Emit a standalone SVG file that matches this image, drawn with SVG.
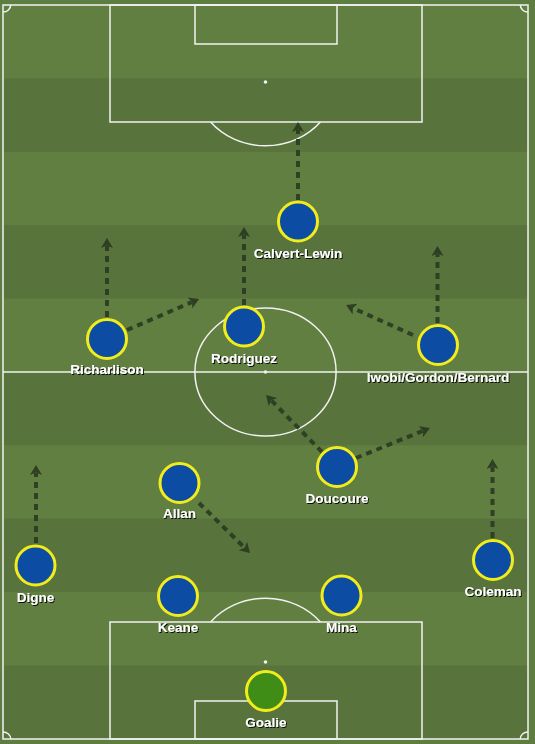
<svg xmlns="http://www.w3.org/2000/svg" width="535" height="744" viewBox="0 0 535 744">
<defs>
<style>
.ln{fill:none;stroke:#f2f2f2;stroke-width:1.5}
.spot{fill:#f2f2f2}
.lt{fill:#627f42}
.dk{fill:#58733c}
.pl{fill:#0c4ca3;stroke:#f2ec1c;stroke-width:3}
.gk{fill:#3f8c17;stroke:#f2ec1c;stroke-width:3}
.lbl{font-family:"Liberation Sans",Arial,sans-serif;font-weight:bold;font-size:13.5px;fill:#ffffff;text-anchor:middle;filter:url(#sh)}
.arr{fill:none;stroke:#2a3a21;stroke-width:4;stroke-dasharray:6 5;stroke-opacity:0.9;marker-end:url(#ah)}
</style>
<filter id="sh" x="-10%" y="-30%" width="120%" height="160%">
<feDropShadow dx="1" dy="1" stdDeviation="0.4" flood-color="#000" flood-opacity="0.9"/>
</filter>
<marker id="ah" markerUnits="userSpaceOnUse" markerWidth="14" markerHeight="14" refX="2" refY="0" viewBox="0 -7 14 14" orient="auto">
<path d="M0,-6 L10,0 L0,6 L2.5,0 Z" fill="#2a3a21" fill-opacity="0.92"/>
</marker>
</defs>
<rect x="0" y="0" width="535" height="744" fill="#5e7d40"/>
<g id="pitch">
<rect class="lt" x="3" y="5" width="525" height="73.4"/>
<rect class="dk" x="3" y="78.4" width="525" height="73.4"/>
<rect class="lt" x="3" y="151.8" width="525" height="73.4"/>
<rect class="dk" x="3" y="225.2" width="525" height="73.4"/>
<rect class="lt" x="3" y="298.6" width="525" height="73.4"/>
<rect class="dk" x="3" y="372" width="525" height="73.4"/>
<rect class="lt" x="3" y="445.4" width="525" height="73.4"/>
<rect class="dk" x="3" y="518.8" width="525" height="73.4"/>
<rect class="lt" x="3" y="592.2" width="525" height="73.4"/>
<rect class="dk" x="3" y="665.6" width="525" height="73.4"/>
<rect class="ln" x="3" y="5" width="525" height="734"/>
<line class="ln" x1="3" y1="372" x2="528" y2="372"/>
<ellipse class="ln" cx="265.5" cy="372" rx="70.6" ry="64"/>
<circle class="spot" cx="265.5" cy="372" r="1.8"/>
<rect class="ln" x="110" y="5" width="312" height="117"/>
<rect class="ln" x="195" y="5" width="142" height="39"/>
<circle class="spot" cx="265.5" cy="82" r="1.8"/>
<path class="ln" d="M210.6,122 A70.6,64 0 0 0 320.4,122"/>
<rect class="ln" x="110" y="622" width="312" height="117"/>
<rect class="ln" x="195" y="701" width="142" height="38"/>
<circle class="spot" cx="265.5" cy="662" r="1.8"/>
<path class="ln" d="M210.6,622 A70.6,64 0 0 1 320.4,622"/>
<path class="ln" d="M3,12 A7.7,7 0 0 0 10.7,5"/>
<path class="ln" d="M520.3,5 A7.7,7 0 0 0 528,12"/>
<path class="ln" d="M3,732 A7.7,7 0 0 1 10.7,739"/>
<path class="ln" d="M520.3,739 A7.7,7 0 0 1 528,732"/>
</g>
<g id="connectors">
<line class="arr" x1="298" y1="200" x2="298" y2="130"/>
<line class="arr" x1="244" y1="305" x2="244" y2="235"/>
<line class="arr" x1="107" y1="317" x2="107" y2="246"/>
<line class="arr" x1="127" y1="330" x2="191.7" y2="302.2"/>
<line class="arr" x1="437.5" y1="323" x2="437.5" y2="254"/>
<line class="arr" x1="413" y1="335" x2="353.3" y2="308.3"/>
<line class="arr" x1="322" y1="452" x2="271.6" y2="400.7"/>
<line class="arr" x1="356" y1="458" x2="422.6" y2="431"/>
<line class="arr" x1="199" y1="503" x2="244.3" y2="547.4"/>
<line class="arr" x1="36" y1="543" x2="36" y2="473"/>
<line class="arr" x1="492.5" y1="538" x2="492.5" y2="467"/>
</g>
<g id="calvert-lewin"><circle class="pl" cx="298" cy="221.5" r="19.5"/><text class="lbl" x="298" y="258">Calvert-Lewin</text></g>
<g id="rodriguez"><circle class="pl" cx="244" cy="326.5" r="19.5"/><text class="lbl" x="244" y="363">Rodriguez</text></g>
<g id="richarlison"><circle class="pl" cx="107" cy="339" r="19.5"/><text class="lbl" x="107" y="374">Richarlison</text></g>
<g id="iwobi"><circle class="pl" cx="438" cy="345" r="19.5"/><text class="lbl" x="438" y="382">Iwobi/Gordon/Bernard</text></g>
<g id="doucoure"><circle class="pl" cx="337" cy="467" r="19.5"/><text class="lbl" x="337" y="503">Doucoure</text></g>
<g id="allan"><circle class="pl" cx="179.5" cy="483" r="19.5"/><text class="lbl" x="179.5" y="518">Allan</text></g>
<g id="digne"><circle class="pl" cx="35.5" cy="565.5" r="19.5"/><text class="lbl" x="35.5" y="602">Digne</text></g>
<g id="coleman"><circle class="pl" cx="493" cy="560" r="19.5"/><text class="lbl" x="493" y="596">Coleman</text></g>
<g id="keane"><circle class="pl" cx="178" cy="596" r="19.5"/><text class="lbl" x="178" y="632">Keane</text></g>
<g id="mina"><circle class="pl" cx="341.5" cy="595.5" r="19.5"/><text class="lbl" x="341.5" y="632">Mina</text></g>
<g id="goalie"><circle class="gk" cx="266" cy="691" r="19.5"/><text class="lbl" x="266" y="726.5">Goalie</text></g>
</svg>
